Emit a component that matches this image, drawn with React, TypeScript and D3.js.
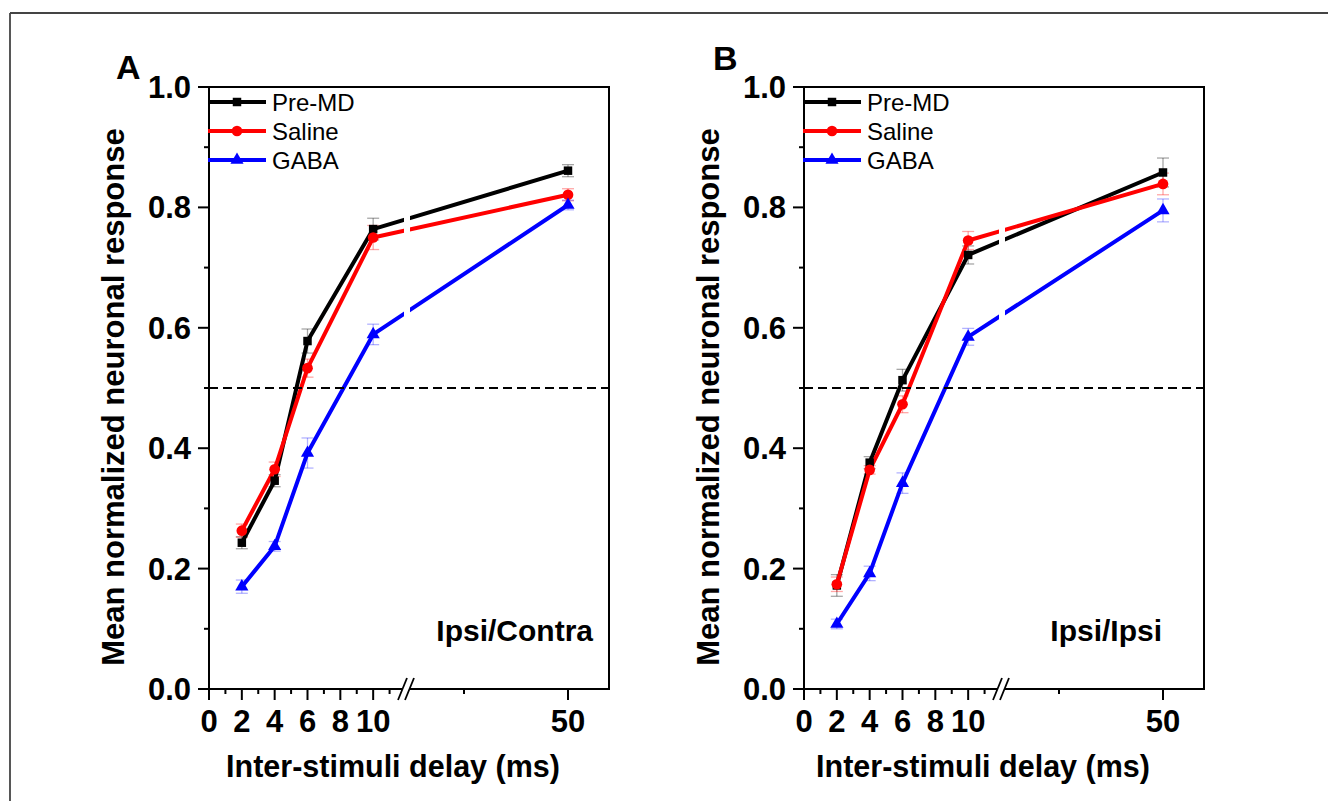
import React from "react";
import * as d3 from "d3";

// ---------- data ----------
const delays = [2, 4, 6, 10, 50];
const seriesNames = ["Pre-MD", "Saline", "GABA"];
const seriesColors = ["#000000", "#ff0000", "#0000ff"];
const errColors = ["rgba(0,0,0,0.35)", "rgba(255,0,0,0.35)", "rgba(0,0,255,0.3)"];

const panelA_preMD = [0.243, 0.346, 0.578, 0.764, 0.861];
const panelA_preMD_err = [0.01, 0.01, 0.02, 0.018, 0.01];
const panelA_saline = [0.263, 0.365, 0.533, 0.75, 0.821];
const panelA_saline_err = [0.011, 0.012, 0.015, 0.02, 0.01];
const panelA_gaba = [0.17, 0.237, 0.392, 0.589, 0.804];
const panelA_gaba_err = [0.011, 0.008, 0.025, 0.017, 0.008];

const panelB_preMD = [0.172, 0.376, 0.513, 0.721, 0.858];
const panelB_preMD_err = [0.018, 0.01, 0.018, 0.015, 0.024];
const panelB_saline = [0.174, 0.364, 0.473, 0.745, 0.839];
const panelB_saline_err = [0.012, 0.007, 0.014, 0.015, 0.018];
const panelB_gaba = [0.108, 0.192, 0.342, 0.585, 0.795];
const panelB_gaba_err = [0.008, 0.012, 0.017, 0.014, 0.019];

const yMajorTicks = [0, 0.2, 0.4, 0.6, 0.8, 1.0];
const yMinorTicks = [0.1, 0.3, 0.5, 0.7, 0.9];
const xMajorTicks = [0, 2, 4, 6, 8, 10, 50];
const xMinorTicks = [1, 3, 5, 7, 9, 11, 30];
const threshold = 0.5;

const panels = [
  {
    letter: "A",
    note: "Ipsi/Contra",
    values: [panelA_preMD, panelA_saline, panelA_gaba],
    errors: [panelA_preMD_err, panelA_saline_err, panelA_gaba_err],
  },
  {
    letter: "B",
    note: "Ipsi/Ipsi",
    values: [panelB_preMD, panelB_saline, panelB_gaba],
    errors: [panelB_preMD_err, panelB_saline_err, panelB_gaba_err],
  },
];

// ---------- layout ----------
const W = 1328;
const H = 801;
const FONT = "'Liberation Sans', Arial, Helvetica, sans-serif";
const PANEL_OFFSETS = [0, 595];
const PLOT_LEFT = 209;
const PLOT_RIGHT = 609;
const Y0 = 689;
const Y1 = 87;
const BREAK_VAL = 12;

const letterPos = [
  { x: 116, y: 79 },
  { x: 713, y: 70 },
];
const notePos = [
  { x: 593, y: 641 },
  { x: 1162, y: 641 },
];
const xTitleCenter = [393, 983];

const symbolTypes = [d3.symbolSquare, d3.symbolCircle, d3.symbolTriangle];
const symbolSizes = [72, 90, 75];

function Panel({ idx }: { idx: number }) {
  const p = panels[idx];
  const ox = PANEL_OFFSETS[idx];
  const left = PLOT_LEFT + ox;
  const right = PLOT_RIGHT + ox;

  const s1 = d3.scaleLinear().domain([0, BREAK_VAL]).range([left, left + 197]);
  const s2 = d3.scaleLinear().domain([30, 50]).range([left + 255, left + 359]);
  const x = (v: number) => (v <= BREAK_VAL ? s1(v) : s2(v));
  const y = d3.scaleLinear().domain([0, 1]).range([Y0, Y1]);
  const breakX = s1(BREAK_VAL);

  const line = d3
    .line<number>()
    .x((_, i) => x(delays[i]))
    .y((d) => y(d));

  const legendRows = [102, 131, 160];

  return (
    <g>
      {/* error bars */}
      {p.values.map((vals, si) =>
        vals.map((v, i) => {
          const e = p.errors[si][i];
          const cx = x(delays[i]);
          return (
            <g key={`e${si}-${i}`} stroke={errColors[si]} strokeWidth={1.3} fill="none">
              <line x1={cx} x2={cx} y1={y(v - e)} y2={y(v + e)} />
              <line x1={cx - 6} x2={cx + 6} y1={y(v - e)} y2={y(v - e)} />
              <line x1={cx - 6} x2={cx + 6} y1={y(v + e)} y2={y(v + e)} />
            </g>
          );
        })
      )}
      {/* lines */}
      {p.values.map((vals, si) => (
        <path key={`l${si}`} d={line(vals) || ""} fill="none" stroke={seriesColors[si]} strokeWidth={4} strokeLinejoin="round" />
      ))}
      {/* gap at the axis break */}
      <rect x={breakX - 2} y={Y1 + 2} width={6} height={Y0 - Y1 - 4} fill="#fff" />
      {/* threshold */}
      <line x1={left} x2={right} y1={y(threshold)} y2={y(threshold)} stroke="#000" strokeWidth={2} strokeDasharray="9,5" />
      {/* markers */}
      {p.values.map((vals, si) =>
        vals.map((v, i) => (
          <path
            key={`m${si}-${i}`}
            d={d3.symbol().type(symbolTypes[si]).size(symbolSizes[si])() || ""}
            transform={`translate(${x(delays[i])},${y(v)})`}
            fill={seriesColors[si]}
          />
        ))
      )}
      {/* frame */}
      <rect x={left} y={Y1} width={right - left} height={Y0 - Y1} fill="none" stroke="#000" strokeWidth={2} />
      {/* y ticks */}
      {yMajorTicks.map((t) => (
        <g key={`ym${t}`}>
          <line x1={left - 11} x2={left} y1={y(t)} y2={y(t)} stroke="#000" strokeWidth={2} />
          <text x={left - 18} y={y(t) + 11} textAnchor="end" fontFamily={FONT} fontWeight="bold" fontSize={31}>
            {d3.format(".1f")(t)}
          </text>
        </g>
      ))}
      {yMinorTicks.map((t) => (
        <line key={`yn${t}`} x1={left - 5} x2={left} y1={y(t)} y2={y(t)} stroke="#000" strokeWidth={2} />
      ))}
      {/* x ticks */}
      {xMajorTicks.map((t) => (
        <g key={`xm${t}`}>
          <line x1={x(t)} x2={x(t)} y1={Y0} y2={Y0 + 11} stroke="#000" strokeWidth={2} />
          <text x={x(t)} y={732} textAnchor="middle" fontFamily={FONT} fontWeight="bold" fontSize={31}>
            {t}
          </text>
        </g>
      ))}
      {xMinorTicks.map((t) => (
        <line key={`xn${t}`} x1={x(t)} x2={x(t)} y1={Y0} y2={Y0 + 5} stroke="#000" strokeWidth={2} />
      ))}
      {/* axis break marks */}
      <rect x={breakX - 3} y={Y0 - 3} width={6} height={6} fill="#fff" />
      <line x1={breakX - 8} x2={breakX + 1} y1={Y0 + 11} y2={Y0 - 11} stroke="#000" strokeWidth={1.8} />
      <line x1={breakX - 1} x2={breakX + 8} y1={Y0 + 11} y2={Y0 - 11} stroke="#000" strokeWidth={1.8} />
      {/* legend */}
      {seriesNames.map((name, si) => (
        <g key={`lg${si}`}>
          <line x1={left - 1} x2={left + 57} y1={legendRows[si]} y2={legendRows[si]} stroke={seriesColors[si]} strokeWidth={4} />
          <path
            d={d3.symbol().type(symbolTypes[si]).size(symbolSizes[si])() || ""}
            transform={`translate(${left + 28},${legendRows[si]})`}
            fill={seriesColors[si]}
          />
          <text x={left + 63} y={legendRows[si] + 8.5} fontFamily={FONT} fontSize={24}>
            {name}
          </text>
        </g>
      ))}
      {/* labels */}
      <text x={letterPos[idx].x} y={letterPos[idx].y} fontFamily={FONT} fontWeight="bold" fontSize={34}>
        {p.letter}
      </text>
      <text x={notePos[idx].x} y={notePos[idx].y} textAnchor="end" fontFamily={FONT} fontWeight="bold" fontSize={30}>
        {p.note}
      </text>
      <text x={xTitleCenter[idx]} y={777} textAnchor="middle" fontFamily={FONT} fontWeight="bold" fontSize={30.5}>
        Inter-stimuli delay (ms)
      </text>
      <text
        transform={`translate(${124 + ox},397) rotate(-90)`}
        textAnchor="middle"
        fontFamily={FONT}
        fontWeight="bold"
        fontSize={31}
      >
        Mean normalized neuronal response
      </text>
    </g>
  );
}

export default function App() {
  return (
    <svg width={W} height={H} style={{ position: "absolute", left: 0, top: 0, background: "#fff" }}>
      <rect x={0} y={0} width={W} height={H} fill="#fff" />
      <line x1={10} x2={W} y1={13} y2={13} stroke="#444" strokeWidth={1.8} />
      <line x1={10} x2={10} y1={13} y2={H} stroke="#444" strokeWidth={1.8} />
      <Panel idx={0} />
      <Panel idx={1} />
    </svg>
  );
}
